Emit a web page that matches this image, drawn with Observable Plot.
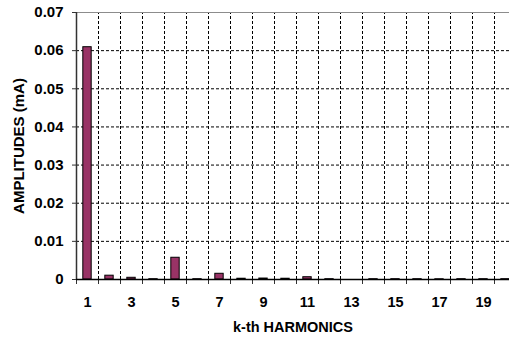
<!DOCTYPE html>
<html>
<head>
<meta charset="utf-8">
<script src="https://cdn.jsdelivr.net/npm/d3@7"></script>
<script src="https://cdn.jsdelivr.net/npm/@observablehq/plot@0.6"></script>
<style>
  html, body { margin: 0; padding: 0; background: #fff; }
  #chart { width: 509px; height: 339px; overflow: hidden; }
  #chart svg { max-width: none; }
</style>
</head>
<body>
<div id="chart"></div>
<script>
// Harmonic order k and amplitude of each harmonic (mA)
const harmonics = [1, 2, 3, 4, 5, 6, 7, 8, 9, 10, 11, 12, 13, 14, 15, 16, 17, 18, 19, 20];
const amplitudes = [0.0609, 0.001, 0.00045, 0.00008, 0.0057, 0.00008, 0.0015, 0.0002, 0.00025, 0.0002,
                    0.0006, 0.00008, 0, 0.00008, 0.00008, 0.00008, 0.00006, 0.00008, 0.00008, 0.00008];
const xTickLabels = [1, 3, 5, 7, 9, 11, 13, 15, 17, 19];
const yTickValues = [0, 0.01, 0.02, 0.03, 0.04, 0.05, 0.06, 0.07];

const data = harmonics.map((k, i) => ({k, amp: amplitudes[i]}));
// category boundaries between neighbouring harmonics
const boundaries = harmonics.map(k => k - 0.5).concat([harmonics[harmonics.length - 1] + 0.5]);
const halfBar = 0.19;

const font = "'Liberation Sans', Arial, sans-serif";

const chart = Plot.plot({
  width: 509,
  height: 339,
  marginLeft: 76,
  marginRight: 0,
  marginTop: 12,
  marginBottom: 60,
  style: {fontFamily: font, fontWeight: "bold", fontSize: "15px", color: "#000", background: "#fff"},
  x: {domain: [0.5, 20.5], range: [76, 516]},
  y: {domain: [0, 0.07], range: [279, 12]},
  marks: [
    // dashed horizontal grid
    Plot.ruleY(yTickValues.filter(v => v > 0 && v < 0.07), {stroke: "#000", strokeDasharray: "3,2", strokeWidth: 1}),
    // dashed vertical grid at category boundaries
    Plot.ruleX(boundaries.slice(1), {y1: 0, y2: 0.07, stroke: "#000", strokeDasharray: "3,2", strokeWidth: 1}),
    // plot area top edge
    Plot.ruleY([0.07], {stroke: "#8c8c8c", strokeWidth: 1}),
    // bars
    Plot.rectY(data, {x1: d => d.k - halfBar, x2: d => d.k + halfBar, y1: 0, y2: "amp",
                      fill: "#993366", stroke: "#000", strokeWidth: 1}),
    // value axis
    Plot.axisY({ticks: yTickValues, tickSize: 4, tickPadding: 9,
                tickFormat: d => d === 0 ? "0" : d.toFixed(2),
                label: "AMPLITUDES (mA)", labelAnchor: "center", labelOffset: 63, labelArrow: false,
                fontSize: 15, stroke: "#333"}),
    Plot.ruleX([0.5], {y1: 0, y2: 0.07, stroke: "#333", strokeWidth: 1.5}),
    // category axis: boundary ticks, then labels
    Plot.axisX({ticks: boundaries, tickSize: 5, tickFormat: () => "", label: null, stroke: "#333"}),
    Plot.axisX({ticks: xTickLabels, tickSize: 0, tickPadding: 17, tickFormat: d => String(d),
                label: "k-th HARMONICS", labelAnchor: "center", labelOffset: 52, labelArrow: false,
                fontSize: 14.5}),
    Plot.ruleY([0], {stroke: "#000", strokeWidth: 1.5})
  ]
});

document.getElementById("chart").appendChild(chart);
</script>
</body>
</html>
